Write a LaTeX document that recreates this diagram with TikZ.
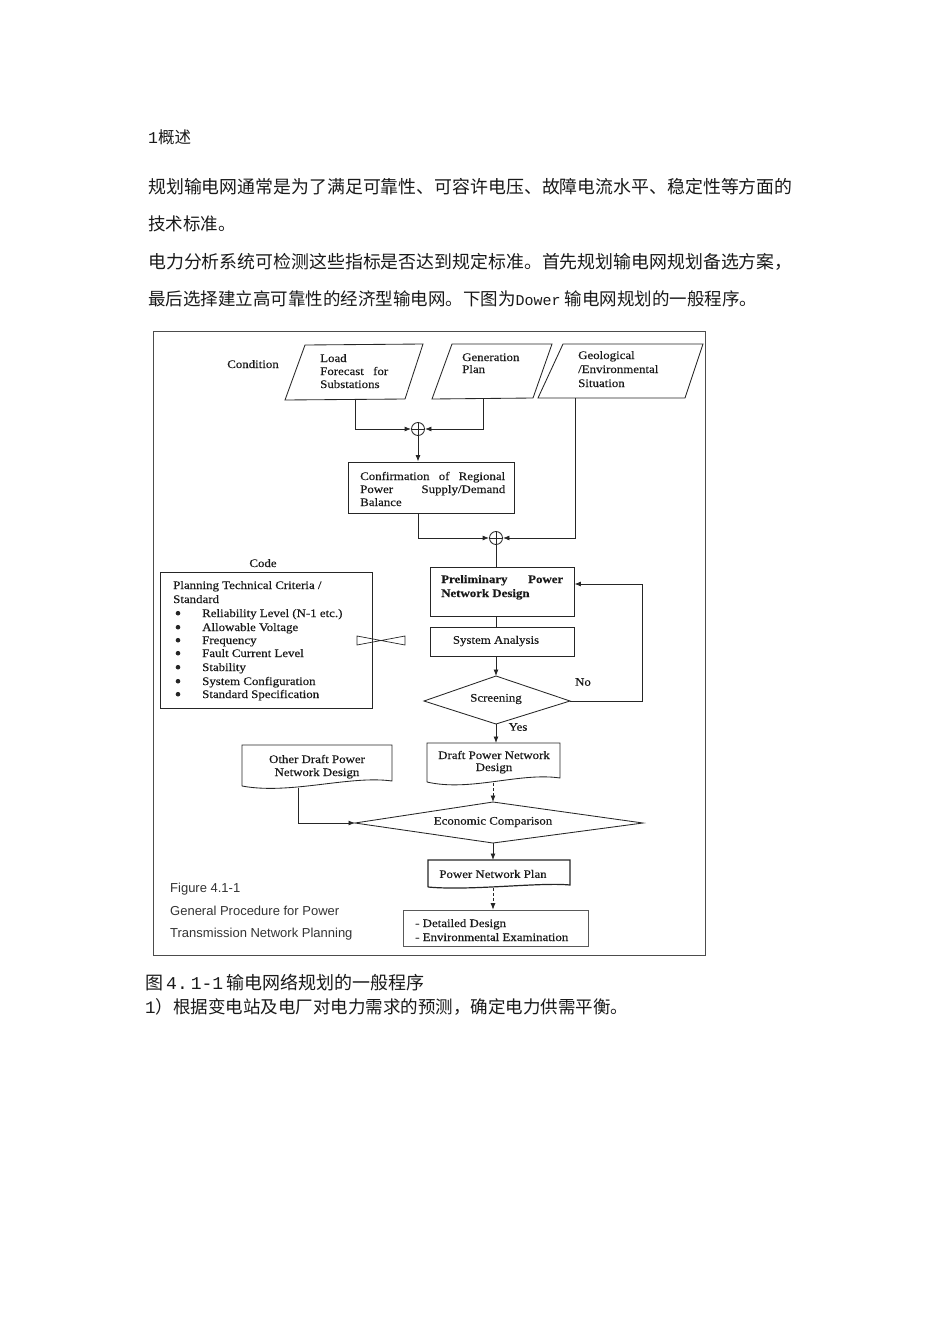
\documentclass[tikz,border=0pt]{standalone}
\usepackage{fontspec}
\setmainfont{Liberation Serif}
\newfontfamily\cjk{Noto Sans CJK SC}
\newfontfamily\mono{Liberation Mono}
\newfontfamily\arial{Liberation Sans}
\newfontfamily\dg[FakeStretch=1.12,FakeBold=0.35]{Liberation Serif}
\usetikzlibrary{arrows.meta}
\begin{document}
\begin{tikzpicture}[x=1pt,y=-1pt,
  ln/.style={draw=black!85, line width=0.85pt},
  arr/.style={ln, -{Latex[length=6.5pt,width=5pt]}},
  darr/.style={ln, densely dashed, -{Latex[length=6.5pt,width=5pt]}},
  lbl/.style={font=\dg\fontsize{11.5}{13}\selectfont, inner sep=0, text=black!90},
  lw/.style={lbl, anchor=base west},
  fig/.style={font=\arial\fontsize{13}{14}\selectfont, inner sep=0, text=black!80, anchor=base west},
  cn/.style={font=\cjk\fontsize{17.5}{20}\selectfont, inner sep=0, anchor=west, text=black!90},
  box/.style={ln, rectangle, inner sep=0},
  sum/.style={ln, circle, minimum size=13pt, inner sep=0}
]
\useasboundingbox (0,0) rectangle (950,1344);

% ---- text above ----
\node[cn, font=\cjk\fontsize{16.5}{18}\selectfont] (h1) at (148,137) {{\mono 1}概述};
\node[cn, font=\cjk\fontsize{17.9}{20}\selectfont] (p1) at (148,187) {规划输电网通常是为了满足可靠性、可容许电压、故障电流水平、稳定性等方面的};
\node[cn] (p2) at (148,224) {技术标准。};
\node[cn, font=\cjk\fontsize{17.9}{20}\selectfont] (p3) at (148,262) {电力分析系统可检测这些指标是否达到规定标准。首先规划输电网规划备选方案，};
\node[cn] (p4) at (148,299) {最后选择建立高可靠性的经济型输电网。下图为{\mono\fontsize{15}{20}\selectfont Dower} 输电网规划的一般程序。};

% ---- frame ----
\draw[draw=black!70, line width=0.9pt] (153,331) rectangle (705,955);

% ---- condition row ----
\node[lbl, anchor=base] (cond) at (253,368) {Condition};
\draw[ln] (305,345) -- (423,344) -- (405,399) -- (285,400) -- cycle;
\coordinate (load-s) at (355,400);
\node[lw] (ld1) at (320,362) {Load};
\node[lw] (ld2) at (320,375) {\makebox[68pt][s]{Forecast for}};
\node[lw] (ld3) at (320,388) {Substations};

\draw[ln] (452,344) -- (552,344) -- (533,398) -- (432,399) -- cycle;
\coordinate (gen-s) at (483,399);
\node[lw] (gn1) at (462,361) {Generation};
\node[lw] (gn2) at (462,373) {Plan};

\draw[ln] (563,344) -- (703,344) -- (685,398) -- (538,398) -- cycle;
\coordinate (geo-s) at (575,398);
\node[lw] (ge1) at (578,359) {Geological};
\node[lw] (ge2) at (578,373) {/Environmental};
\node[lw] (ge3) at (578,387) {Situation};

% ---- first sum and confirmation ----
\node[sum] (sum1) at (418,429) {};
\draw[ln] (sum1.north) -- (sum1.south) (sum1.west) -- (sum1.east);
\draw[arr] (load-s) |- (sum1.west);
\draw[arr] (gen-s) |- (sum1.east);

\node[box, minimum width=166pt, minimum height=51pt] (conf) at (431,487.5) {};
\draw[arr] (sum1.south) -- (sum1.south |- conf.north);
\node[lw] (cf1) at (360,480) {\makebox[145pt][s]{Confirmation of Regional}};
\node[lw] (cf2) at (360,493) {\makebox[145pt][s]{Power Supply/Demand}};
\node[lw] (cf3) at (360,506) {Balance};

% ---- second sum ----
\node[sum] (sum2) at (496,538) {};
\draw[ln] (sum2.north) -- (sum2.south) (sum2.west) -- (sum2.east);
\draw[arr] (conf.south -| sum1) |- (sum2.west);
\draw[arr] (geo-s) |- (sum2.east);

% ---- preliminary / system analysis ----
\node[box, minimum width=144pt, minimum height=49pt] (prel) at (502,591.5) {};
\draw[ln] (sum2.south) -- (sum2.south |- prel.north);
\node[lw] (pr1) at (441,583) {\makebox[122pt][s]{\bfseries Preliminary Power}};
\node[lw] (pr2) at (441,597) {\bfseries Network Design};

\node[box, minimum width=144pt, minimum height=29pt] (sysan) at (502,641.5) {};
\node[lbl] (sat) at (496,641) {System Analysis};
\draw[ln] (prel.south -| sum2) -- (sysan.north -| sum2);

% ---- screening ----
\coordinate (scr-n) at (496,676);
\coordinate (scr-e) at (570,701);
\coordinate (scr-s) at (496,724);
\coordinate (scr-w) at (424,701);
\draw[ln] (scr-w) -- (scr-n) -- (scr-e) -- (scr-s) -- cycle;
\node[lbl] (scrt) at (496,699) {Screening};
\draw[arr] (sysan.south -| sum2) -- (scr-n);
\coordinate (loopc) at (642,584);
\draw[arr] (scr-e) -| (loopc) -- (loopc -| prel.east);
\node[lbl] (no) at (583,682) {No};
\node[lbl] (yes) at (518,727) {Yes};

% ---- code box ----
\node[lbl, anchor=base] (code) at (263,567) {Code};
\node[box, minimum width=212pt, minimum height=136pt] (codebox) at (266,640) {};
\node[lw] (ct1) at (173,589) {Planning Technical Criteria /};
\node[lw] (ct2) at (173,603) {Standard};
\node[lw] (ci1) at (202,617) {Reliability Level (N-1 etc.)};
\node[lw] (ci2) at (202,631) {Allowable Voltage};
\node[lw] (ci3) at (202,644) {Frequency};
\node[lw] (ci4) at (202,657) {Fault Current Level};
\node[lw] (ci5) at (202,671) {Stability};
\node[lw] (ci6) at (202,685) {System Configuration};
\node[lw] (ci7) at (202,698) {Standard Specification};
\foreach \yy in {617,631,644,657,671,685,698}
  \fill[black!85] (178,\yy-3.8) circle (2.3pt);
% bow-tie
\draw[ln, line width=0.7pt] (357,636) -- (357,645) -- (381,640.5) -- cycle;
\draw[ln, line width=0.7pt] (405,636) -- (405,645) -- (381,640.5) -- cycle;

% ---- draft designs ----
\draw[ln] (427,782) -- (427,743) -- (560,743) -- (560,778) .. controls (520,772) and (470,792) .. (427,782);
\coordinate (draft-n) at (493,743);
\coordinate (draft-s) at (493,783);
\node[lbl, anchor=base] (dr1) at (494,759) {Draft Power Network};
\node[lbl, anchor=base] (dr2) at (494,771) {Design};
\draw[arr] (scr-s) -- (scr-s |- draft-n);

\draw[ln] (242,786) -- (242,745) -- (392,745) -- (392,781) .. controls (350,775) and (290,795) .. (242,786);
\coordinate (other-s) at (298,788);
\node[lbl, anchor=base] (ot1) at (317,763) {Other Draft Power};
\node[lbl, anchor=base] (ot2) at (317,776) {Network Design};

% ---- economic comparison ----
\coordinate (eco-n) at (493,802);
\coordinate (eco-e) at (643,823);
\coordinate (eco-s) at (493,843);
\coordinate (eco-w) at (355,823);
\draw[ln] (eco-w) -- (eco-n) -- (eco-e) -- (eco-s) -- cycle;
\node[lbl] (ecot) at (493,822) {Economic Comparison};
\draw[darr] (draft-s) -- (eco-n);
\draw[arr] (other-s) |- (eco-w);

% ---- plan ----
\draw[ln, line width=1.2pt] (428,887) -- (428,860) -- (570,860) -- (570,885) .. controls (540,882) and (470,891) .. (428,887);
\coordinate (pnp-n) at (493,860);
\coordinate (pnp-s) at (493,888);
\node[lbl] (pnpt) at (493,874) {Power Network Plan};
\draw[arr] (eco-s) -- (pnp-n);

\node[box, draw=black!65, line width=0.6pt, minimum width=185pt, minimum height=36pt] (fin) at (495.5,928) {};
\draw[darr] (pnp-s) -- (fin.north -| pnp-s);
\node[lw] (fn1) at (415,927) {- Detailed Design};
\node[lw] (fn2) at (415,941) {- Environmental Examination};

% ---- figure caption inside frame ----
\node[fig] (fg1) at (170,892) {Figure 4.1-1};
\node[fig] (fg2) at (170,915) {General Procedure for Power};
\node[fig] (fg3) at (170,937) {Transmission Network Planning};

% ---- text below ----
\node[cn, font=\cjk\fontsize{18}{20}\selectfont] (cap) at (145,983) {图{\mono\,4.\,1-1\,}输电网络规划的一般程序};
\node[cn, font=\cjk\fontsize{17.5}{20}\selectfont] (q1) at (145,1007) {{\mono 1}）根据变电站及电厂对电力需求的预测，确定电力供需平衡。};
\end{tikzpicture}
\end{document}
